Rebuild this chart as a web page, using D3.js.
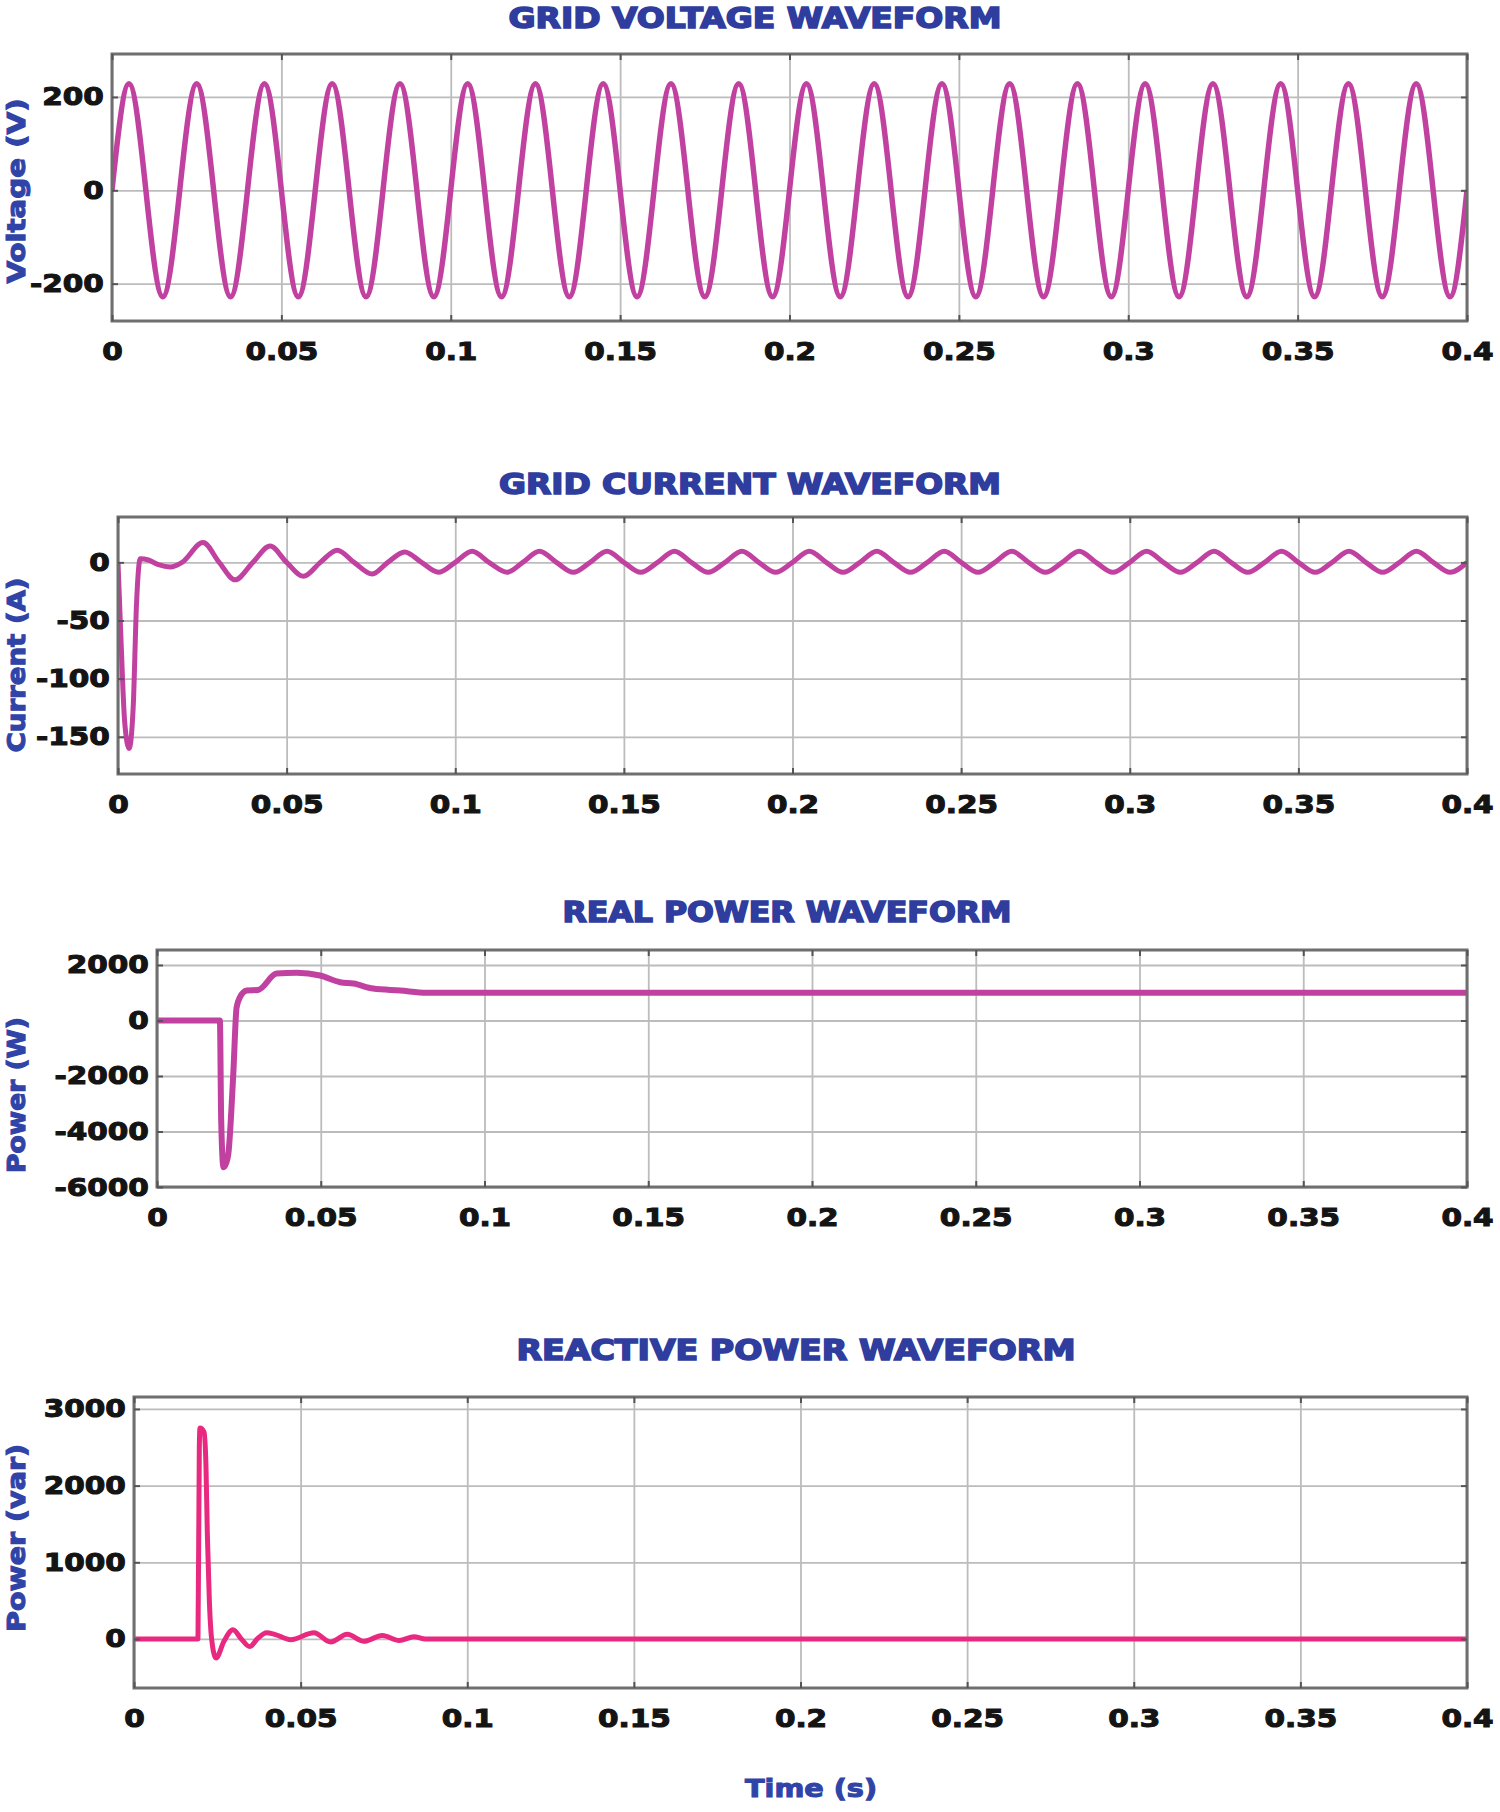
<!DOCTYPE html>
<html>
<head>
<meta charset="utf-8">
<script src="https://cdn.jsdelivr.net/npm/d3@7"></script>
<style>
  body { margin: 0; background: #fff; }
  svg text { font-family: "DejaVu Sans", sans-serif; font-weight: bold; }
</style>
</head>
<body>
<div id="container"></div>
<script>
// shared x axis (time, s)
var xTicks = [0, 0.05, 0.1, 0.15, 0.2, 0.25, 0.3, 0.35, 0.4];
var xTickLabels = ["0", "0.05", "0.1", "0.15", "0.2", "0.25", "0.3", "0.35", "0.4"];

var titles = ["GRID VOLTAGE WAVEFORM", "GRID CURRENT WAVEFORM", "REAL POWER WAVEFORM", "REACTIVE POWER WAVEFORM"];
var yLabels = ["Voltage (V)", "Current (A)", "Power (W)", "Power (var)"];
var xLabel = "Time (s)";

// grid voltage (peaks, troughs and zero crossings)
var voltTime = [0, .005, .01, .015, .02, .025, .03, .035, .04, .045, .05, .055, .06, .065, .07, .075, .08, .085, .09, .095,
  .1, .105, .11, .115, .12, .125, .13, .135, .14, .145, .15, .155, .16, .165, .17, .175, .18, .185, .19, .195,
  .2, .205, .21, .215, .22, .225, .23, .235, .24, .245, .25, .255, .26, .265, .27, .275, .28, .285, .29, .295,
  .3, .305, .31, .315, .32, .325, .33, .335, .34, .345, .35, .355, .36, .365, .37, .375, .38, .385, .39, .395, .4];
var voltVal = [0, 228, 0, -228, 0, 228, 0, -228, 0, 228, 0, -228, 0, 228, 0, -228, 0, 228, 0, -228,
  0, 228, 0, -228, 0, 228, 0, -228, 0, 228, 0, -228, 0, 228, 0, -228, 0, 228, 0, -228,
  0, 228, 0, -228, 0, 228, 0, -228, 0, 228, 0, -228, 0, 228, 0, -228, 0, 228, 0, -228,
  0, 228, 0, -228, 0, 228, 0, -228, 0, 228, 0, -228, 0, 228, 0, -228, 0, 228, 0, -228, 0];
var voltTicks = [-200, 0, 200];
var voltTickLabels = ["-200", "0", "200"];

// grid current
var curTime = [0, .0008, .002, .0033, .0045, .0055, .0066, .009, .012, .0155, .019, .0252, .03, .0347, .04, .0451, .05, .055,
  .06, .065, .07, .0754, .08, .085, .09, .095, .1, .105, .11, .1154, .12, .125, .13, .135, .14, .145, .15, .155,
  .16, .165, .17, .175, .18, .185, .19, .195, .2, .205, .21, .215, .22, .225, .23, .235, .24, .245, .25, .255,
  .26, .265, .27, .275, .28, .285, .29, .295, .3, .305, .31, .315, .32, .325, .33, .335, .34, .345, .35, .355,
  .36, .365, .37, .375, .38, .385, .39, .395, .4];
var curVal = [0, -60, -138, -160, -125, -35, 3, 2, -2, -4, 0, 17, 0, -15, 0, 14, 0, -12,
  0, 10.5, 0, -10, 0, 9, 0, -8.5, 0, 9.5, 0, -8.5, 0, 9.5, 0, -8.5, 0, 9.5, 0, -8.5,
  0, 9.5, 0, -8.5, 0, 9.5, 0, -8.5, 0, 9.5, 0, -8.5, 0, 9.5, 0, -8.5, 0, 9.5, 0, -8.5,
  0, 9.5, 0, -8.5, 0, 9.5, 0, -8.5, 0, 9.5, 0, -8.5, 0, 9.5, 0, -8.5, 0, 9.5, 0, -8.5,
  0, 9.5, 0, -8.5, 0, 9.5, 0, -8.5, 0];
var curTicks = [-150, -100, -50, 0];
var curTickLabels = ["-150", "-100", "-50", "0"];

// real power
var realTime = [0, .0192, .0196, .0203, .0211, .0218, .0233, .0243, .0253, .0274, .0309, .0365, .0427, .0498, .0559, .06, .066, .0742, .0823, .4];
var realVal = [0, 0, -3600, -5290, -5150, -4790, -1910, 470, 830, 1080, 1100, 1690, 1720, 1620, 1380, 1330, 1150, 1080, 1000, 1000];
var realTicks = [-6000, -4000, -2000, 0, 2000];
var realTickLabels = ["-6000", "-4000", "-2000", "0", "2000"];

// reactive power
var reacTime = [0, .0192, .0196, .0198, .021, .0216, .022, .0226, .0233, .0246, .027, .0297, .0322, .0347, .0372, .0398, .0422,
  .047, .054, .059, .064, .069, .0745, .0796, .084, .0875, .4];
var reacVal = [0, 0, 2500, 2750, 2700, 2250, 1380, 510, 0, -250, -30, 120, 0, -100, 10, 80, 60,
  -10, 80, -40, 60, -30, 45, -20, 30, 0, 0];
var reacTicks = [0, 1000, 2000, 3000];
var reacTickLabels = ["0", "1000", "2000", "3000"];

var width = 1500;
var height = 1812;
var plotRight = 1467;
var titleColor = "#2e3d9e";
var labelColor = "#3044a8";

var svg = d3.select("#container")
  .append("svg")
  .attr("width", width)
  .attr("height", height);

var panels = [
  { t: voltTime, v: voltVal, domain: [-280, 292], ticks: voltTicks, labels: voltTickLabels,
    left: 112, top: 54, bottom: 321, color: "#c141a0", curve: d3.curveNatural, lw: 5.5,
    titleX: 755, titleY: 28, titleW: 493, labelY: 191, labelW: 185 },
  { t: curTime, v: curVal, domain: [-182, 39], ticks: curTicks, labels: curTickLabels,
    left: 118, top: 517, bottom: 774, color: "#c141a0", curve: d3.curveMonotoneX, lw: 5,
    titleX: 750, titleY: 494, titleW: 502, labelY: 665, labelW: 175 },
  { t: realTime, v: realVal, domain: [-6000, 2540], ticks: realTicks, labels: realTickLabels,
    left: 157, top: 950, bottom: 1187, color: "#c141a0", curve: d3.curveMonotoneX, lw: 6,
    titleX: 787, titleY: 922, titleW: 449, labelY: 1095, labelW: 156 },
  { t: reacTime, v: reacVal, domain: [-640, 3156], ticks: reacTicks, labels: reacTickLabels,
    left: 134, top: 1397, bottom: 1688, color: "#e8297f", curve: d3.curveMonotoneX, lw: 5,
    titleX: 796, titleY: 1360, titleW: 559, labelY: 1538, labelW: 188 }
];

panels.forEach(function (p, i) {
  var x = d3.scaleLinear().domain([0, 0.4]).range([p.left, plotRight]);
  var y = d3.scaleLinear().domain(p.domain).range([p.bottom, p.top]);
  var h = p.bottom - p.top;
  var w = plotRight - p.left;

  //grid lines
  var gx = svg.append("g")
    .attr("transform", "translate(0," + p.bottom + ")")
    .call(d3.axisBottom(x).tickValues(xTicks).tickSize(-h).tickFormat(""));
  var gy = svg.append("g")
    .attr("transform", "translate(" + p.left + ",0)")
    .call(d3.axisLeft(y).tickValues(p.ticks).tickSize(-w).tickFormat(""));
  [gx, gy].forEach(function (g) {
    g.select(".domain").remove();
    g.selectAll("line").attr("stroke", "#bcbcbc").attr("stroke-width", 1.8);
  });

  //clip so the trace stays inside the box
  svg.append("clipPath")
    .attr("id", "clip" + i)
    .append("rect")
    .attr("x", p.left).attr("y", p.top)
    .attr("width", w).attr("height", h);

  var pts = p.t.map(function (d, k) { return [d, p.v[k]]; });
  var line = d3.line()
    .x(function (d) { return x(d[0]); })
    .y(function (d) { return y(d[1]); })
    .curve(p.curve);

  svg.append("path")
    .datum(pts)
    .attr("clip-path", "url(#clip" + i + ")")
    .attr("fill", "none")
    .attr("stroke", p.color)
    .attr("stroke-width", p.lw)
    .attr("stroke-linejoin", "round")
    .attr("d", line);

  //box
  svg.append("rect")
    .attr("x", p.left).attr("y", p.top)
    .attr("width", w).attr("height", h)
    .attr("fill", "none")
    .attr("stroke", "#6f6f6f")
    .attr("stroke-width", 3);

  //axes with inward ticks
  var xa = svg.append("g")
    .attr("transform", "translate(0," + p.bottom + ")")
    .call(d3.axisBottom(x).tickValues(xTicks).tickSize(-6).tickPadding(21)
      .tickFormat(function (d, k) { return xTickLabels[k]; }));
  var xt = svg.append("g")
    .attr("transform", "translate(0," + p.top + ")")
    .call(d3.axisTop(x).tickValues(xTicks).tickSize(-6).tickFormat(""));
  var ya = svg.append("g")
    .attr("transform", "translate(" + p.left + ",0)")
    .call(d3.axisLeft(y).tickValues(p.ticks).tickSize(-6).tickPadding(7)
      .tickFormat(function (d, k) { return p.labels[k]; }));
  var yr = svg.append("g")
    .attr("transform", "translate(" + plotRight + ",0)")
    .call(d3.axisRight(y).tickValues(p.ticks).tickSize(-6).tickFormat(""));
  [xa, xt, ya, yr].forEach(function (g) {
    g.select(".domain").remove();
    g.selectAll("line").attr("stroke", "#555").attr("stroke-width", 2);
    g.selectAll("text")
      .attr("font-size", 25)
      .attr("fill", "#141414")
      .attr("stroke", "#141414")
      .attr("stroke-width", 1.1)
      .attr("transform", "scale(1.18,1)");
  });

  //title
  svg.append("text")
    .attr("x", p.titleX)
    .attr("y", p.titleY)
    .attr("text-anchor", "middle")
    .attr("font-size", 28)
    .attr("fill", titleColor)
    .attr("stroke", titleColor)
    .attr("stroke-width", 1.6)
    .attr("textLength", p.titleW)
    .attr("lengthAdjust", "spacingAndGlyphs")
    .text(titles[i]);

  //y label
  svg.append("text")
    .attr("transform", "translate(17," + p.labelY + ") rotate(-90)")
    .attr("text-anchor", "middle")
    .attr("dominant-baseline", "central")
    .attr("font-size", 24)
    .attr("fill", labelColor)
    .attr("stroke", labelColor)
    .attr("stroke-width", 1.1)
    .attr("textLength", p.labelW)
    .attr("lengthAdjust", "spacingAndGlyphs")
    .text(yLabels[i]);
});

svg.append("text")
  .attr("x", 811)
  .attr("y", 1797)
  .attr("text-anchor", "middle")
  .attr("font-size", 25)
  .attr("fill", labelColor)
  .attr("stroke", labelColor)
  .attr("stroke-width", 1.1)
  .attr("textLength", 132)
  .attr("lengthAdjust", "spacingAndGlyphs")
  .text(xLabel);
</script>
</body>
</html>
